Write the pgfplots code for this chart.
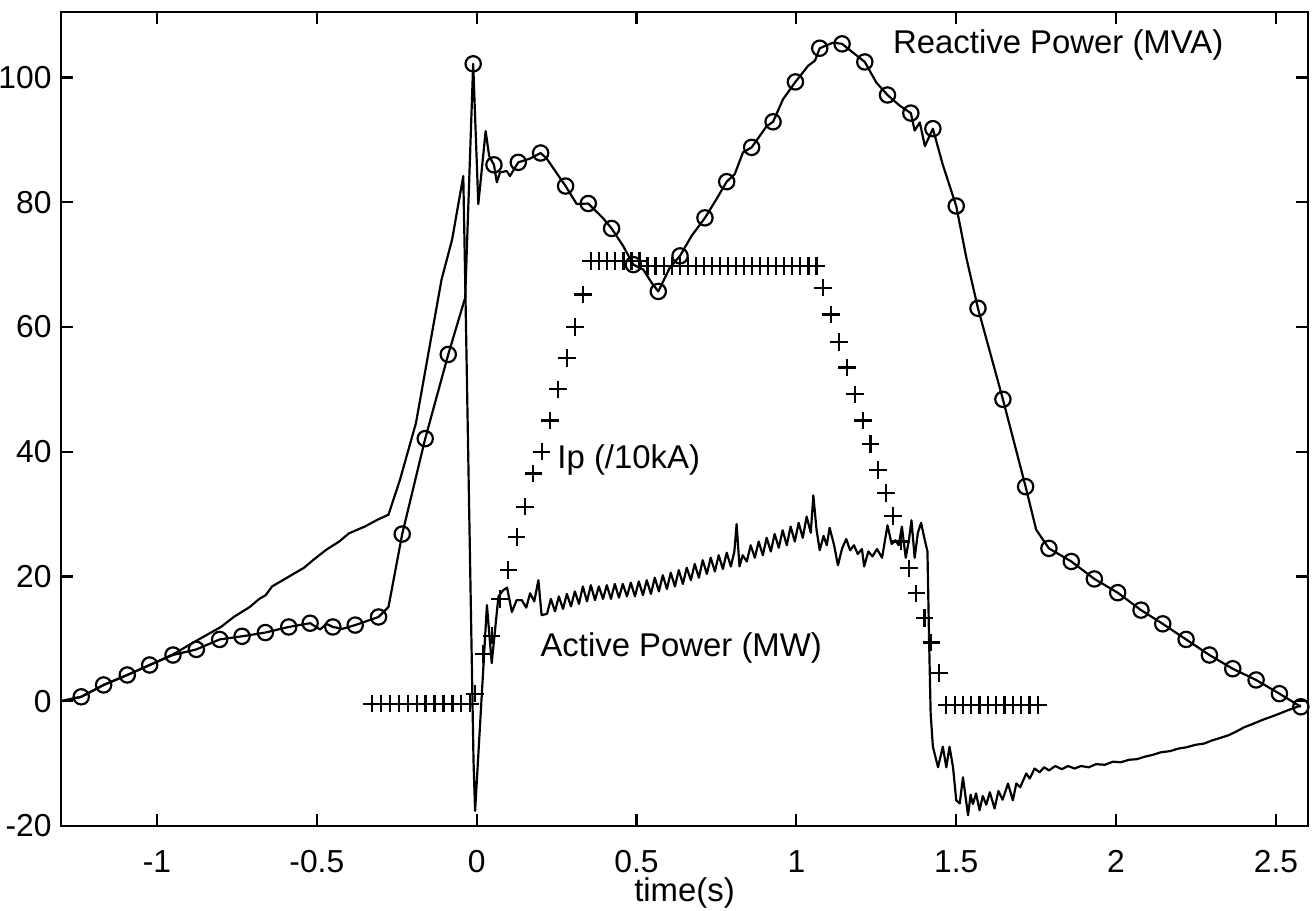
\documentclass[border=0pt]{standalone}
\usepackage{fontspec}
\setmainfont{Liberation Sans}
\usepackage{pgfplots}
\pgfplotsset{compat=1.18}
\begin{document}
\begin{tikzpicture}
\begin{axis}[
  scale only axis, width=455pt, height=297pt,
  xmin=-1.3, xmax=2.6, ymin=-20, ymax=110.5,
  xtick={-1,-0.5,0,0.5,1,1.5,2,2.5},
  xticklabels={-1,-0.5,0,0.5,1,1.5,2,2.5},
  ytick={-20,0,20,40,60,80,100},
  yticklabels={-20,0,20,40,60,80,100},
  tick align=inside, tick pos=both, major tick length=4.4pt,
  axis line style={line width=0.9pt},
  every tick/.style={line width=0.8pt,black},
  font=\fontsize{12}{14}\selectfont,
  ticklabel style={font=\fontsize{11.6}{14}\selectfont},
  xticklabel style={anchor=center, yshift=-13.1pt},
  yticklabel style={anchor=east, inner sep=0pt, xshift=-3.3pt},
  xlabel={time(s)},
  xlabel style={font=\fontsize{12}{14}\selectfont, at={(axis description cs:0.5,0)}, anchor=center, yshift=-24.5pt},
]
% Active power (MW)
\addplot[black, line width=0.8pt, line join=round] coordinates {
(-1.300,0.0) (-1.237,0.7) (-1.167,2.6) (-1.093,4.2) (-1.023,5.8) (-0.950,7.5)
(-0.880,9.6) (-0.800,11.9) (-0.760,13.5) (-0.710,15.1) (-0.680,16.4) (-0.660,17.0)
(-0.640,18.4) (-0.600,19.6) (-0.570,20.5) (-0.540,21.4) (-0.510,22.7) (-0.470,24.3)
(-0.430,25.6) (-0.400,26.9) (-0.350,28.0) (-0.310,29.1) (-0.276,29.9) (-0.240,35.5)
(-0.190,44.6) (-0.110,67.6) (-0.077,74.0) (-0.042,84.2) (-0.036,67.6) (-0.010,-9.5)
(-0.005,-17.6) (0.032,15.4) (0.047,6.1) (0.068,16.8) (0.083,17.8) (0.095,18.2)
(0.110,14.3) (0.125,16.2) (0.141,16.2) (0.155,15.0) (0.167,17.3) (0.180,16.0)
(0.193,19.4) (0.203,13.8)
(0.220,14.0) (0.232,16.4) (0.245,14.4) (0.257,16.8) (0.270,14.8) (0.282,17.2)
(0.295,15.2) (0.307,17.6) (0.320,15.6) (0.332,18.4) (0.345,16.0) (0.357,18.6)
(0.370,16.2) (0.382,18.4) (0.395,16.4) (0.407,18.6) (0.420,16.4) (0.432,18.8)
(0.445,16.6) (0.457,18.8) (0.470,16.8) (0.482,19.0) (0.495,16.8) (0.507,19.2)
(0.520,17.0) (0.532,19.4) (0.545,17.2) (0.557,19.8) (0.570,17.6) (0.582,20.2)
(0.595,18.0) (0.607,20.6) (0.620,18.4) (0.632,21.0) (0.645,18.8) (0.657,21.4)
(0.670,19.4) (0.682,22.0) (0.695,19.8) (0.707,22.6) (0.720,20.4) (0.732,23.0)
(0.745,20.8) (0.757,23.4) (0.770,21.2) (0.782,23.8) (0.795,21.6) (0.806,24.0)
(0.813,28.4) (0.822,21.6) (0.832,23.4) (0.845,22.4) (0.857,25.0) (0.870,23.0)
(0.882,25.6) (0.895,23.4) (0.907,26.2) (0.920,24.0) (0.932,26.8) (0.945,24.6)
(0.957,27.4) (0.970,25.0) (0.982,28.0) (0.995,25.6) (1.007,28.6) (1.020,26.2)
(1.032,29.6) (1.045,27.0) (1.053,33.0) (1.063,27.5) (1.073,24.2) (1.085,26.5)
(1.095,25.0) (1.104,27.8) (1.118,25.0) (1.130,21.8) (1.143,24.5) (1.156,26.0)
(1.168,24.2) (1.180,25.0) (1.192,23.6) (1.205,24.4) (1.212,21.6) (1.225,24.0)
(1.238,23.2) (1.252,24.4) (1.268,23.0) (1.285,28.2) (1.298,25.2) (1.310,25.8)
(1.320,25.0) (1.330,28.0) (1.342,23.0) (1.352,25.8) (1.360,29.0) (1.370,23.0)
(1.380,27.0) (1.390,28.6) (1.400,26.2) (1.410,24.0) (1.415,10.0) (1.420,-2.0)
(1.427,-7.3) (1.443,-10.6) (1.458,-7.3) (1.469,-10.6) (1.479,-7.3) (1.490,-10.6)
(1.500,-15.9) (1.511,-16.4) (1.521,-12.2) (1.537,-18.3) (1.545,-15.0) (1.552,-16.5)
(1.562,-14.8) (1.573,-17.5) (1.583,-15.2) (1.594,-16.6) (1.605,-14.6) (1.620,-17.2)
(1.632,-14.4) (1.645,-15.8) (1.662,-13.2) (1.677,-15.9) (1.688,-13.2) (1.700,-13.8)
(1.719,-11.6) (1.730,-12.4) (1.745,-10.8) (1.761,-11.4) (1.775,-10.6) (1.790,-11.1)
(1.810,-10.4) (1.830,-10.9) (1.850,-10.4) (1.870,-10.8) (1.890,-10.4) (1.915,-10.6)
(1.937,-10.1) (1.965,-10.2) (1.990,-9.7) (2.015,-9.8) (2.040,-9.4) (2.065,-9.3)
(2.090,-8.9) (2.115,-8.6) (2.140,-8.2) (2.170,-8.0) (2.195,-7.6) (2.220,-7.4)
(2.248,-7.0) (2.275,-6.8) (2.300,-6.3) (2.325,-5.9) (2.350,-5.5) (2.375,-4.9)
(2.400,-4.2) (2.430,-3.6) (2.458,-3.0) (2.485,-2.5) (2.511,-2.0) (2.545,-1.3)
(2.578,-0.7)
};
% Reactive power (MVA) line
\addplot[black, line width=0.8pt, line join=round] coordinates {
(-1.300,0.0) (-1.237,0.7) (-1.167,2.6) (-1.093,4.2) (-1.023,5.8) (-0.950,7.4)
(-0.877,8.3) (-0.804,9.9) (-0.734,10.4) (-0.661,11.0) (-0.588,11.9) (-0.521,12.5)
(-0.490,11.5) (-0.470,12.4) (-0.450,11.9) (-0.420,11.6) (-0.380,12.2) (-0.307,13.5)
(-0.276,15.1) (-0.233,26.8) (-0.161,42.1) (-0.089,55.6) (-0.036,64.7) (-0.011,102.2)
(0.005,79.7) (0.028,91.4) (0.039,87.4) (0.054,86.0) (0.063,83.2) (0.073,84.8)
(0.094,85.0) (0.104,84.2) (0.130,86.4) (0.167,87.0) (0.200,87.9) (0.219,87.0)
(0.278,82.6) (0.313,79.7) (0.349,79.8) (0.396,77.4) (0.422,75.8) (0.458,73.0)
(0.490,70.0) (0.521,69.2) (0.547,67.1) (0.568,65.7) (0.604,69.5) (0.636,71.4)
(0.672,74.6) (0.714,77.5) (0.750,80.5) (0.782,83.3) (0.807,84.5) (0.833,88.0)
(0.860,88.8) (0.907,92.2) (0.927,92.9) (0.958,96.5) (0.997,99.3) (1.037,101.9)
(1.058,102.7) (1.073,104.7) (1.115,105.6) (1.143,105.4) (1.177,104.0) (1.214,102.5)
(1.250,99.2) (1.285,97.2) (1.323,95.5) (1.358,94.3) (1.370,91.5) (1.386,92.8)
(1.402,89.0) (1.427,91.8) (1.458,86.0) (1.500,79.4) (1.532,71.0) (1.568,63.0)
(1.646,48.4) (1.717,34.4) (1.750,27.5) (1.790,24.5) (1.860,22.4) (1.932,19.6)
(2.005,17.4) (2.078,14.6) (2.146,12.4) (2.219,9.9) (2.292,7.4) (2.365,5.2)
(2.438,3.4) (2.511,1.2) (2.578,-0.9)
};
% Reactive power circles
\addplot[black, only marks, mark=o, mark size=2.8pt, mark options={line width=0.8pt}] coordinates {
(-1.237,0.7) (-1.167,2.6) (-1.093,4.2) (-1.023,5.8) (-0.950,7.4) (-0.877,8.3)
(-0.804,9.9) (-0.734,10.4) (-0.661,11.0) (-0.588,11.9) (-0.521,12.5) (-0.450,11.9)
(-0.380,12.2) (-0.307,13.5) (-0.233,26.8) (-0.161,42.1) (-0.089,55.6) (-0.011,102.2)
(0.054,86.0) (0.130,86.4) (0.200,87.9) (0.278,82.6) (0.349,79.8) (0.422,75.8)
(0.490,70.0) (0.568,65.7) (0.636,71.4) (0.714,77.5) (0.782,83.3) (0.860,88.8)
(0.927,92.9) (0.997,99.3) (1.073,104.7) (1.143,105.4) (1.214,102.5) (1.285,97.2)
(1.358,94.3) (1.427,91.8) (1.500,79.4) (1.568,63.0) (1.646,48.4) (1.717,34.4)
(1.790,24.5) (1.860,22.4) (1.932,19.6) (2.005,17.4) (2.078,14.6) (2.146,12.4)
(2.219,9.9) (2.292,7.4) (2.365,5.2) (2.438,3.4) (2.511,1.2) (2.578,-0.9)
};
% Ip (/10kA)
\addplot[black, only marks, mark=+, mark size=3.2pt, mark options={line width=0.8pt}] coordinates {
(-0.327,-0.4) (-0.299,-0.4) (-0.271,-0.4) (-0.243,-0.4) (-0.215,-0.4) (-0.188,-0.4)
(-0.160,-0.4) (-0.132,-0.4) (-0.104,-0.4) (-0.076,-0.4) (-0.048,-0.4) (-0.020,-0.4)
(-0.005,1.2) (0.021,7.6) (0.047,10.5) (0.073,16.4) (0.099,21.0) (0.125,26.3)
(0.151,31.2) (0.177,36.5) (0.203,40.0) (0.229,45.0) (0.255,50.0) (0.282,55.0)
(0.308,60.0) (0.333,65.2)
(0.358,70.6) (0.383,70.6) (0.408,70.6) (0.433,70.6) (0.459,70.6) (0.484,70.6) (0.509,70.6)
(0.534,69.8) (0.559,69.8) (0.585,69.8) (0.610,69.8) (0.635,69.8) (0.660,69.8)
(0.685,69.8) (0.710,69.8) (0.736,69.8) (0.761,69.8) (0.786,69.8) (0.811,69.8)
(0.836,69.8) (0.861,69.8) (0.887,69.8) (0.912,69.8) (0.937,69.8) (0.962,69.8)
(0.987,69.8) (1.012,69.8) (1.038,69.8) (1.063,69.8)
(1.083,66.3) (1.108,62.0) (1.133,57.6) (1.158,53.5) (1.183,49.2) (1.208,45.0)
(1.232,41.2) (1.255,37.1) (1.280,33.4) (1.302,29.7) (1.328,25.6) (1.352,21.3)
(1.375,17.3) (1.401,13.3) (1.422,9.4) (1.446,4.5)
(1.469,-0.6) (1.495,-0.6) (1.521,-0.6) (1.547,-0.6) (1.573,-0.6) (1.599,-0.6)
(1.625,-0.6) (1.651,-0.6) (1.677,-0.6) (1.703,-0.6) (1.729,-0.6) (1.755,-0.6)
};
\node[anchor=west, inner sep=0pt] at (axis cs:1.301,105.2) {Reactive Power (MVA)};
\node[anchor=west, inner sep=0pt] at (axis cs:0.251,38.6) {Ip (/10kA)};
\node[anchor=west, inner sep=0pt] at (axis cs:0.198,8.5) {Active Power (MW)};
\end{axis}
\pgfresetboundingbox
\path[use as bounding box] ([xshift=-22.3pt,yshift=-31pt]current axis.south west) rectangle ([xshift=2.6pt,yshift=4.4pt]current axis.north east);
\end{tikzpicture}
\end{document}
